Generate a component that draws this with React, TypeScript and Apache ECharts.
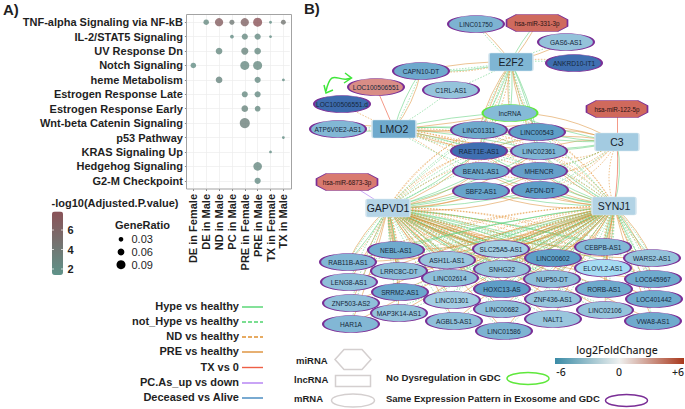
import React, { useEffect, useRef } from "react";
import * as echarts from "echarts";

const FONT = '"Liberation Sans", Arial, sans-serif';
const INK = "#1f1f1f";

// ---- Panel A data
const pathways = ["TNF-alpha Signaling via NF-kB", "IL-2/STAT5 Signaling", "UV Response Dn", "Notch Signaling", "heme Metabolism", "Estrogen Response Late", "Estrogen Response Early", "Wnt-beta Catenin Signaling", "p53 Pathway", "KRAS Signaling Up", "Hedgehog Signaling", "G2-M Checkpoint"];
const groups = ["DE in Female", "DE in Male", "ND in Male", "PC in Male", "PRE in Female", "PRE in Male", "TX in Female", "TX in Male"];
// [group, pathway, GeneRatio, -log10(adj.p)]
const dots: [string, string, number, number][] = [
  ["DE in Male", pathways[0], 0.042, 2.4], ["ND in Male", pathways[0], 0.08, 6.9], ["PC in Male", pathways[0], 0.036, 4], ["PRE in Female", pathways[0], 0.08, 6.2], ["PRE in Male", pathways[0], 0.09, 7.8], ["TX in Female", pathways[0], 0.006, 2], ["TX in Male", pathways[0], 0.034, 4.4],
  ["PC in Male", pathways[1], 0.018, 2.1], ["PRE in Female", pathways[1], 0.052, 2.4], ["PRE in Male", pathways[1], 0.052, 2.3], ["TX in Female", pathways[1], 0.005, 2],
  ["ND in Male", pathways[2], 0.058, 2.4], ["PRE in Female", pathways[2], 0.065, 2.9], ["PRE in Male", pathways[2], 0.058, 2.4],
  ["DE in Female", pathways[3], 0.042, 2], ["PRE in Female", pathways[3], 0.09, 2.5], ["PRE in Male", pathways[3], 0.09, 2.4],
  ["ND in Male", pathways[4], 0.058, 2.8], ["PRE in Male", pathways[4], 0.05, 2.3], ["TX in Male", pathways[4], 0.005, 2],
  ["PRE in Female", pathways[5], 0.05, 2.4], ["PRE in Male", pathways[5], 0.05, 2.3],
  ["PRE in Female", pathways[6], 0.058, 2.9], ["PRE in Male", pathways[6], 0.045, 2.4],
  ["PRE in Female", pathways[7], 0.105, 3.4],
  ["TX in Male", pathways[8], 0.004, 2],
  ["TX in Female", pathways[9], 0.004, 2],
  ["PRE in Male", pathways[10], 0.085, 2.5],
  ["PRE in Male", pathways[11], 0.052, 2.2],
];
const colorbarTicks = ["6", "4", "2"];
const ratioLegend = [0.03, 0.06, 0.09];
const edgeLegend: [string, string][] = [["Hype vs healthy", "hype"], ["not_Hype vs healthy", "notHype"], ["ND vs healthy", "nd"], ["PRE vs healthy", "pre"], ["TX vs 0", "tx"], ["PC.As_up vs down", "pc"], ["Deceased vs Alive", "dead"]];

// ---- Panel B data
const hubs: [string, number, number, string][] = [
  ["E2F2", 511, 62, "#7fb6d4"], ["LMO2", 394, 129, "#6faacd"], ["C3", 617, 142, "#a3cbe1"], ["GAPVD1", 388, 208, "#b4d4e6"], ["SYNJ1", 614, 206, "#b2d3e5"],
];
const mirnas: [string, number, number, string][] = [
  ["hsa-miR-331-3p", 537, 23, "#cf6a5e"], ["hsa-miR-122-5p", 617, 109, "#d0695c"], ["hsa-miR-6873-3p", 347, 182, "#d97a70"],
];
const topNodes: [string, number, number, string][] = [
  ["LINC01750", 476, 24, "#7db3d2"], ["GAS6-AS1", 566, 42, "#94c2da"], ["ANKRD10-IT1", 574, 63, "#3f6fb1"], ["CAPN10-DT", 421, 71, "#6ea9cd"],
  ["LOC100506551", 376, 87, "#d98d86"], ["C1RL-AS1", 451, 90, "#95c3db"], ["LOC100506551.d", 342, 104, "#3d6bae"], ["ATP6V0E2-AS1", 338, 129, "#82b7d5"],
];
const lncHub: [string, number, number, string] = ["lncRNA", 510, 113, "#85bbd7"];
const centerNodes: [string, number, number, string][] = [
  ["LINC01311", 479, 130, "#6faacd"], ["LINC00543", 537, 132, "#5e9ec7"], ["RAET1E-AS1", 479, 151, "#3f6fb1"], ["LINC02361", 539, 151, "#7fb5d4"],
  ["BEAN1-AS1", 481, 171, "#6faacd"], ["MHENCR", 539, 171, "#669fc9"], ["SBF2-AS1", 481, 191, "#67a4cb"], ["AFDN-DT", 540, 190, "#5f9ec8"],
];
const lowerNodes: [string, number, number, string][] = [
  ["NEBL-AS1", 396, 250, "#6faacd"], ["RAB11B-AS1", 348, 262, "#82b7d5"], ["ASH1L-AS1", 447, 260, "#9ac6dd"], ["SLC25A5-AS1", 501, 249, "#a3cde2"],
  ["LINC00602", 553, 258, "#5e9ec7"], ["CEBPB-AS1", 603, 247, "#82b7d5"], ["WARS2-AS1", 652, 258, "#95c3db"], ["LRRC8C-DT", 399, 271, "#8fbfd9"],
  ["SNHG22", 502, 269, "#95c3db"], ["ELOVL2-AS1", 603, 268, "#a6dcf3"], ["LENG8-AS1", 349, 282, "#8fbfd9"], ["LINC02614", 450, 278, "#8fbfd9"],
  ["NUP50-DT", 552, 279, "#8fbfd9"], ["LOC645967", 653, 279, "#6faacd"], ["HOXC13-AS", 502, 289, "#5e9ec7"], ["RORB-AS1", 604, 289, "#6faacd"],
  ["SRRM2-AS1", 400, 292, "#6aa6cc"], ["ZNF503-AS2", 351, 303, "#8fbfd9"], ["LINC01301", 452, 300, "#a3cde2"], ["ZNF436-AS1", 553, 299, "#95c3db"],
  ["LOC401442", 654, 299, "#6faacd"], ["LINC00682", 502, 309, "#8fbfd9"], ["LINC02106", 605, 310, "#95c3db"], ["MAP3K14-AS1", 399, 313, "#95c3db"],
  ["HAR1A", 351, 324, "#82b7d5"], ["AGBL5-AS1", 454, 321, "#8fbfd9"], ["NALT1", 553, 319, "#9ac6dd"], ["VWA8-AS1", 653, 321, "#6faacd"], ["LINC01586", 504, 331, "#7db3d2"],
];
const coreUpper = ["lncRNA", "LINC01311", "LINC00543", "RAET1E-AS1", "LINC02361"];
const coreLower = ["BEAN1-AS1", "MHENCR", "SBF2-AS1", "AFDN-DT", "RAET1E-AS1", "LINC02361"];
const lowerFar = ["NEBL-AS1", "SLC25A5-AS1", "LINC00602", "CEBPB-AS1", "SNHG22", "ASH1L-AS1", "ELOVL2-AS1", "WARS2-AS1", "RAB11B-AS1", "LRRC8C-DT", "NUP50-DT", "LINC02614", "HOXC13-AS", "LOC645967"];
const lowerDeep = ["LENG8-AS1", "RORB-AS1", "SRRM2-AS1", "ZNF503-AS2", "LINC01301", "ZNF436-AS1", "LOC401442", "LINC00682", "LINC02106", "MAP3K14-AS1", "HAR1A", "AGBL5-AS1", "NALT1", "VWA8-AS1", "LINC01586"];
// [kind, hub, partners, curveness]
const edgeSets: [string, string, string[], number][] = [
  ["notHype", "E2F2", ["LINC01750", "GAS6-AS1", "ANKRD10-IT1", "CAPN10-DT", "C1RL-AS1"], 0.04],
  ["pre", "E2F2", ["LINC01750", "hsa-miR-331-3p", "GAS6-AS1", "CAPN10-DT"], -0.06],
  ["hype", "E2F2", ["hsa-miR-331-3p", "CAPN10-DT"], 0.08],
  ["nd", "E2F2", ["CAPN10-DT", "ANKRD10-IT1"], 0.1],
  ["hype", "LMO2", ["CAPN10-DT", "ATP6V0E2-AS1"], 0.08],
  ["pre", "LMO2", ["CAPN10-DT", "ATP6V0E2-AS1"], -0.12],
  ["notHype", "LMO2", ["CAPN10-DT", "C1RL-AS1", "ATP6V0E2-AS1"], -0.04],
  ["nd", "LMO2", ["LOC100506551.d", "ATP6V0E2-AS1"], 0.04],
  ["tx", "LMO2", ["LOC100506551"], 0],
  ["tx", "C3", ["hsa-miR-122-5p"], 0],
  ["pc", "GAPVD1", ["hsa-miR-6873-3p"], 0],
  ["hype", "E2F2", coreUpper, 0.06], ["notHype", "E2F2", coreUpper, -0.05], ["pre", "E2F2", coreUpper, -0.1], ["nd", "E2F2", ["LINC01311", "RAET1E-AS1"], 0.12],
  ["hype", "LMO2", coreUpper, 0.05], ["pre", "LMO2", coreUpper, -0.03], ["nd", "LMO2", coreLower, 0.1], ["notHype", "LMO2", ["RAET1E-AS1", "LINC02361", "BEAN1-AS1"], -0.06],
  ["pre", "C3", coreUpper, -0.14], ["hype", "C3", coreUpper, 0.05], ["nd", "C3", coreLower, 0.28], ["notHype", "C3", ["MHENCR", "AFDN-DT"], 0.1],
  ["pre", "GAPVD1", coreLower, -0.12], ["hype", "GAPVD1", coreLower, -0.06], ["notHype", "GAPVD1", coreUpper, 0.08], ["nd", "GAPVD1", coreUpper, 0.16],
  ["pre", "SYNJ1", coreLower, 0.12], ["hype", "SYNJ1", coreLower, 0.06], ["notHype", "SYNJ1", coreUpper, -0.08], ["nd", "SYNJ1", coreUpper, -0.16],
  ["hype", "C3", ["SYNJ1"], 0.12], ["nd", "C3", ["SYNJ1"], -0.2], ["tx", "C3", ["SYNJ1"], 0.06],
  ["hype", "GAPVD1", lowerFar, 0.05], ["notHype", "GAPVD1", lowerFar, -0.05], ["nd", "GAPVD1", lowerFar, 0.1], ["pre", "GAPVD1", lowerFar, -0.1],
  ["pre", "GAPVD1", lowerDeep, 0.04], ["notHype", "GAPVD1", lowerDeep, -0.05],
  ["hype", "SYNJ1", lowerFar, -0.05], ["notHype", "SYNJ1", lowerFar, 0.05], ["nd", "SYNJ1", lowerFar, -0.1], ["pre", "SYNJ1", lowerFar, 0.1],
  ["pre", "SYNJ1", lowerDeep, -0.04], ["notHype", "SYNJ1", lowerDeep, 0.05],
];
const fcTicks = ["-6", "0", "+6"];

const edgeStyle: Record<string, any> = {
  hype: { color: "#5ed07c", type: "solid", width: 0.65 },
  notHype: { color: "#5ed07c", type: [1.5, 1.5], width: 0.7 },
  nd: { color: "#e2902f", type: [1.5, 1.5], width: 0.7 },
  pre: { color: "#dd913a", type: "solid", width: 0.65 },
  tx: { color: "#ef6a4f", type: "solid", width: 0.8 },
  pc: { color: "#b180f2", type: "solid", width: 0.8 },
  dead: { color: "#3f86bd", type: "solid", width: 0.8 },
};
const legendLine: Record<string, any> = {
  hype: { stroke: "#4fd46e" }, notHype: { stroke: "#4fd46e", lineDash: [4, 2] }, nd: { stroke: "#e0902f", lineDash: [4, 2] },
  pre: { stroke: "#dd8f36" }, tx: { stroke: "#ee5f45" }, pc: { stroke: "#b27df2" }, dead: { stroke: "#3f86bd" },
};

const ELLIPSE = "path://M-1,0A1,1 0 1 1 1,0A1,1 0 1 1 -1,0Z";
const OCTAGON = "path://M0.16,0L0.84,0L1,0.3L1,0.7L0.84,1L0.16,1L0,0.7L0,0.3Z";
const HUB = "path://M0.04,0L0.96,0Q1,0 1,0.1L1,0.9Q1,1 0.96,1L0.04,1Q0,1 0,0.9L0,0.1Q0,0 0.04,0Z";
const HEX = "M-18,0L-9,-10L9,-10L18,0L9,10L-9,10Z";
const ratioSize = (r: number) => 2.5 + 72 * r;

function ellipseNode(n: [string, number, number, string], border = "#7a2e96", w = 56, h = 17) {
  return {
    name: n[0], value: [n[1], n[2]], symbol: ELLIPSE, symbolSize: [w, h],
    itemStyle: { color: n[3], borderColor: border, borderWidth: 1.2, opacity: 1 },
    label: { show: true, position: "inside", fontSize: 6.6, color: "#16283a", fontFamily: FONT },
  };
}

function buildOption(): any {
  const nodes: any[] = [
    ...hubs.map((n) => ({
      name: n[0], value: [n[1], n[2]], symbol: HUB, symbolSize: [44, 18],
      itemStyle: { color: n[3], borderColor: "#d5e6ef", borderWidth: 1, opacity: 1 },
      label: { show: true, position: "inside", fontSize: 10.5, color: "#18222c", fontFamily: FONT },
    })),
    ...mirnas.map((n) => ({
      name: n[0], value: [n[1], n[2]], symbol: OCTAGON, symbolSize: [61, 17],
      itemStyle: { color: n[3], borderColor: "#7a2e96", borderWidth: 0.9, opacity: 1 },
      label: { show: true, position: "inside", fontSize: 6.3, color: "#2a1414", fontFamily: FONT },
    })),
    ...topNodes.map((n) => ellipseNode(n)),
    ellipseNode(lncHub, "#5fe83c", 55, 17),
    ...centerNodes.map((n) => ellipseNode(n)),
    ...lowerNodes.map((n) => ellipseNode(n)),
  ];
  const links: any[] = [];
  for (const [kind, hub, partners, curve] of edgeSets) {
    for (const p of partners) {
      links.push({ source: hub, target: p, lineStyle: { ...edgeStyle[kind], curveness: curve, opacity: 0.85 } });
    }
  }

  const text = (x: number, y: number, t: string, o: any = {}) => ({
    type: "text", x, y, silent: true, z: 50,
    style: { text: t, fontFamily: FONT, fontSize: 11, fontWeight: "bold", fill: INK, textVerticalAlign: "middle", verticalAlign: "middle", ...o },
  });
  const barTickYs = [230, 249.5, 269];
  const ratioYs = [239.3, 252, 264.7];
  const edgeYs = [306, 321, 336, 351, 366.5, 382, 397];
  const fcXs = [561, 619, 678];

  const graphic: any[] = [
    text(3, 9, "A)", { fontSize: 15 }),
    text(304, 8, "B)", { fontSize: 15 }),
    { type: "rect", z: 40, silent: true, shape: { x: 186.5, y: 14.5, width: 105, height: 174.5 }, style: { fill: "none", stroke: "#a3a3a3", lineWidth: 1 } },
    text(51.5, 203, "-log10(Adjusted.P.value)"),
    ...colorbarTicks.map((t, i) => text(67.5, barTickYs[i], t)),
    ...barTickYs.flatMap((y) => [
      { type: "line", z: 50, silent: true, shape: { x1: 51.5, y1: y, x2: 54, y2: y }, style: { stroke: "#fff", lineWidth: 0.7 } },
      { type: "line", z: 50, silent: true, shape: { x1: 61, y1: y, x2: 63.5, y2: y }, style: { stroke: "#fff", lineWidth: 0.7 } },
    ]),
    text(115, 224.5, "GeneRatio"),
    ...ratioLegend.map((r, i) => ({ type: "circle", z: 50, silent: true, shape: { cx: 121, cy: ratioYs[i], r: ratioSize(r) / 2 }, style: { fill: "#000" } })),
    ...ratioLegend.map((r, i) => text(131.5, ratioYs[i], r.toFixed(2), { fontWeight: "normal", fontSize: 11 })),
    ...edgeLegend.map(([t], i) => text(239, edgeYs[i], t, { textAlign: "right", align: "right" })),
    ...edgeLegend.map(([, k], i) => ({ type: "line", z: 50, silent: true, shape: { x1: 242, y1: edgeYs[i] + 1, x2: 263, y2: edgeYs[i] + 1 }, style: { lineWidth: 1.4, ...legendLine[k] } })),
    // curved double arrow between the two LOC100506551 forms
    { type: "bezierCurve", z: 60, silent: true, shape: { x1: 326, y1: 91, cpx1: 332, cpy1: 66, cpx2: 338, cpy2: 84, x2: 351, y2: 78 }, style: { fill: "none", stroke: "#3fe63a", lineWidth: 1.5 } },
    { type: "polyline", z: 60, silent: true, shape: { points: [[345, 73], [351.5, 78], [344, 83]] }, style: { fill: "none", stroke: "#3fe63a", lineWidth: 1.5 } },
    { type: "polyline", z: 60, silent: true, shape: { points: [[324, 85], [326, 93], [333, 90]] }, style: { fill: "none", stroke: "#3fe63a", lineWidth: 1.5 } },
    // node type key
    text(296, 360, "miRNA", { fontSize: 9.5 }),
    text(294, 379, "lncRNA", { fontSize: 9.5 }),
    text(294, 398, "mRNA", { fontSize: 9.5 }),
    { type: "hexKey", z: 50, silent: true, x: 353, y: 359.5, style: { fill: "#fff", stroke: "#d4cfcf", lineWidth: 1.5 } },
    { type: "rect", z: 50, silent: true, shape: { x: 335.5, y: 375.5, width: 35, height: 11 }, style: { fill: "#fff", stroke: "#d4cfcf", lineWidth: 1.5 } },
    { type: "ellipse", z: 50, silent: true, shape: { cx: 353, cy: 400.5, rx: 21.5, ry: 6.5 }, style: { fill: "#fff", stroke: "#d4cfcf", lineWidth: 1.5 } },
    text(386, 377, "No Dysregulation in GDC", { fontSize: 9.6 }),
    { type: "ellipse", z: 50, silent: true, shape: { cx: 528, cy: 378.5, rx: 21, ry: 6 }, style: { fill: "none", stroke: "#5fe83c", lineWidth: 1.5 } },
    text(386, 398.5, "Same Expression Pattern in Exosome and GDC", { fontSize: 9.5 }),
    { type: "ellipse", z: 50, silent: true, shape: { cx: 626.5, cy: 400.5, rx: 21, ry: 6 }, style: { fill: "none", stroke: "#7a2e96", lineWidth: 1.5 } },
    text(617, 349.5, "log2FoldChange", { textAlign: "center", align: "center", fontFamily: '"Noto Sans", sans-serif', fontWeight: 500, fontSize: 10.5 }),
    {
      type: "rect", z: 50, silent: true, shape: { x: 555, y: 358, width: 129, height: 6 },
      style: { fill: new echarts.graphic.LinearGradient(0, 0, 1, 0, [{ offset: 0, color: "#3a8ba6" }, { offset: 0.5, color: "#eef0ef" }, { offset: 1, color: "#a9381c" }]) },
    },
    ...fcTicks.map((t, i) => text(fcXs[i], 371.5, t, { textAlign: "center", align: "center", fontFamily: '"Noto Sans", sans-serif', fontWeight: 500, fontSize: 10.5 })),
  ];

  return {
    animation: false,
    backgroundColor: "#fff",
    grid: [
      { left: 186.9, top: 15, width: 102.9, height: 173 },
      { left: 0, top: 0, width: 685, height: 409 },
    ],
    xAxis: [
      {
        type: "category", gridIndex: 0, data: groups, offset: 1,
        axisLine: { show: false }, axisTick: { show: true, alignWithLabel: true, length: 2, lineStyle: { color: "#555", width: 0.7 } },
        axisLabel: { rotate: 90, interval: 0, margin: 5, fontSize: 11, fontWeight: "bold", color: INK, fontFamily: FONT },
        splitLine: { show: true, alignWithLabel: true, lineStyle: { color: "#ececec", width: 0.7 } },
      },
      { type: "value", gridIndex: 1, min: 0, max: 685, show: false },
    ],
    yAxis: [
      {
        type: "category", gridIndex: 0, data: pathways, inverse: true,
        axisLine: { show: false }, axisTick: { show: true, alignWithLabel: true, length: 2, lineStyle: { color: "#555", width: 0.7 } },
        axisLabel: { interval: 0, margin: 4, fontSize: 11, fontWeight: "bold", color: INK, fontFamily: FONT },
        splitLine: { show: true, alignWithLabel: true, lineStyle: { color: "#ececec", width: 0.7 } },
      },
      { type: "value", gridIndex: 1, min: 0, max: 409, inverse: true, show: false },
    ],
    visualMap: {
      type: "continuous", seriesIndex: 0, dimension: 3, min: 1.4, max: 7.9, left: 52, top: 211.5,
      itemWidth: 11, itemHeight: 63.5, calculable: false, showLabel: false, text: undefined, padding: 0,
      inRange: { color: ["#5f9389", "#8a5257"] },
    },
    series: [
      {
        type: "scatter", xAxisIndex: 0, yAxisIndex: 0, data: dots,
        symbolSize: (v: any[]) => ratioSize(v[2]), silent: true, z: 5,
      },
      {
        type: "graph", coordinateSystem: "cartesian2d", xAxisIndex: 1, yAxisIndex: 1, layout: "none",
        roam: false, silent: true, z: 3, data: nodes, links, edgeSymbol: ["none", "none"],
        emphasis: { disabled: true }, clip: false,
      },
    ],
    graphic: { elements: graphic },
  };
}

echarts.graphic.registerShape("hexKey", echarts.graphic.extendPath(HEX, {}) as any);

export default function App() {
  const ref = useRef<HTMLDivElement>(null);
  useEffect(() => {
    document.body.style.margin = "0";
    const chart = echarts.init(ref.current!, undefined, { renderer: "svg" });
    chart.setOption(buildOption());
    return () => chart.dispose();
  }, []);
  return <div ref={ref} style={{ width: 685, height: 409 }} />;
}
